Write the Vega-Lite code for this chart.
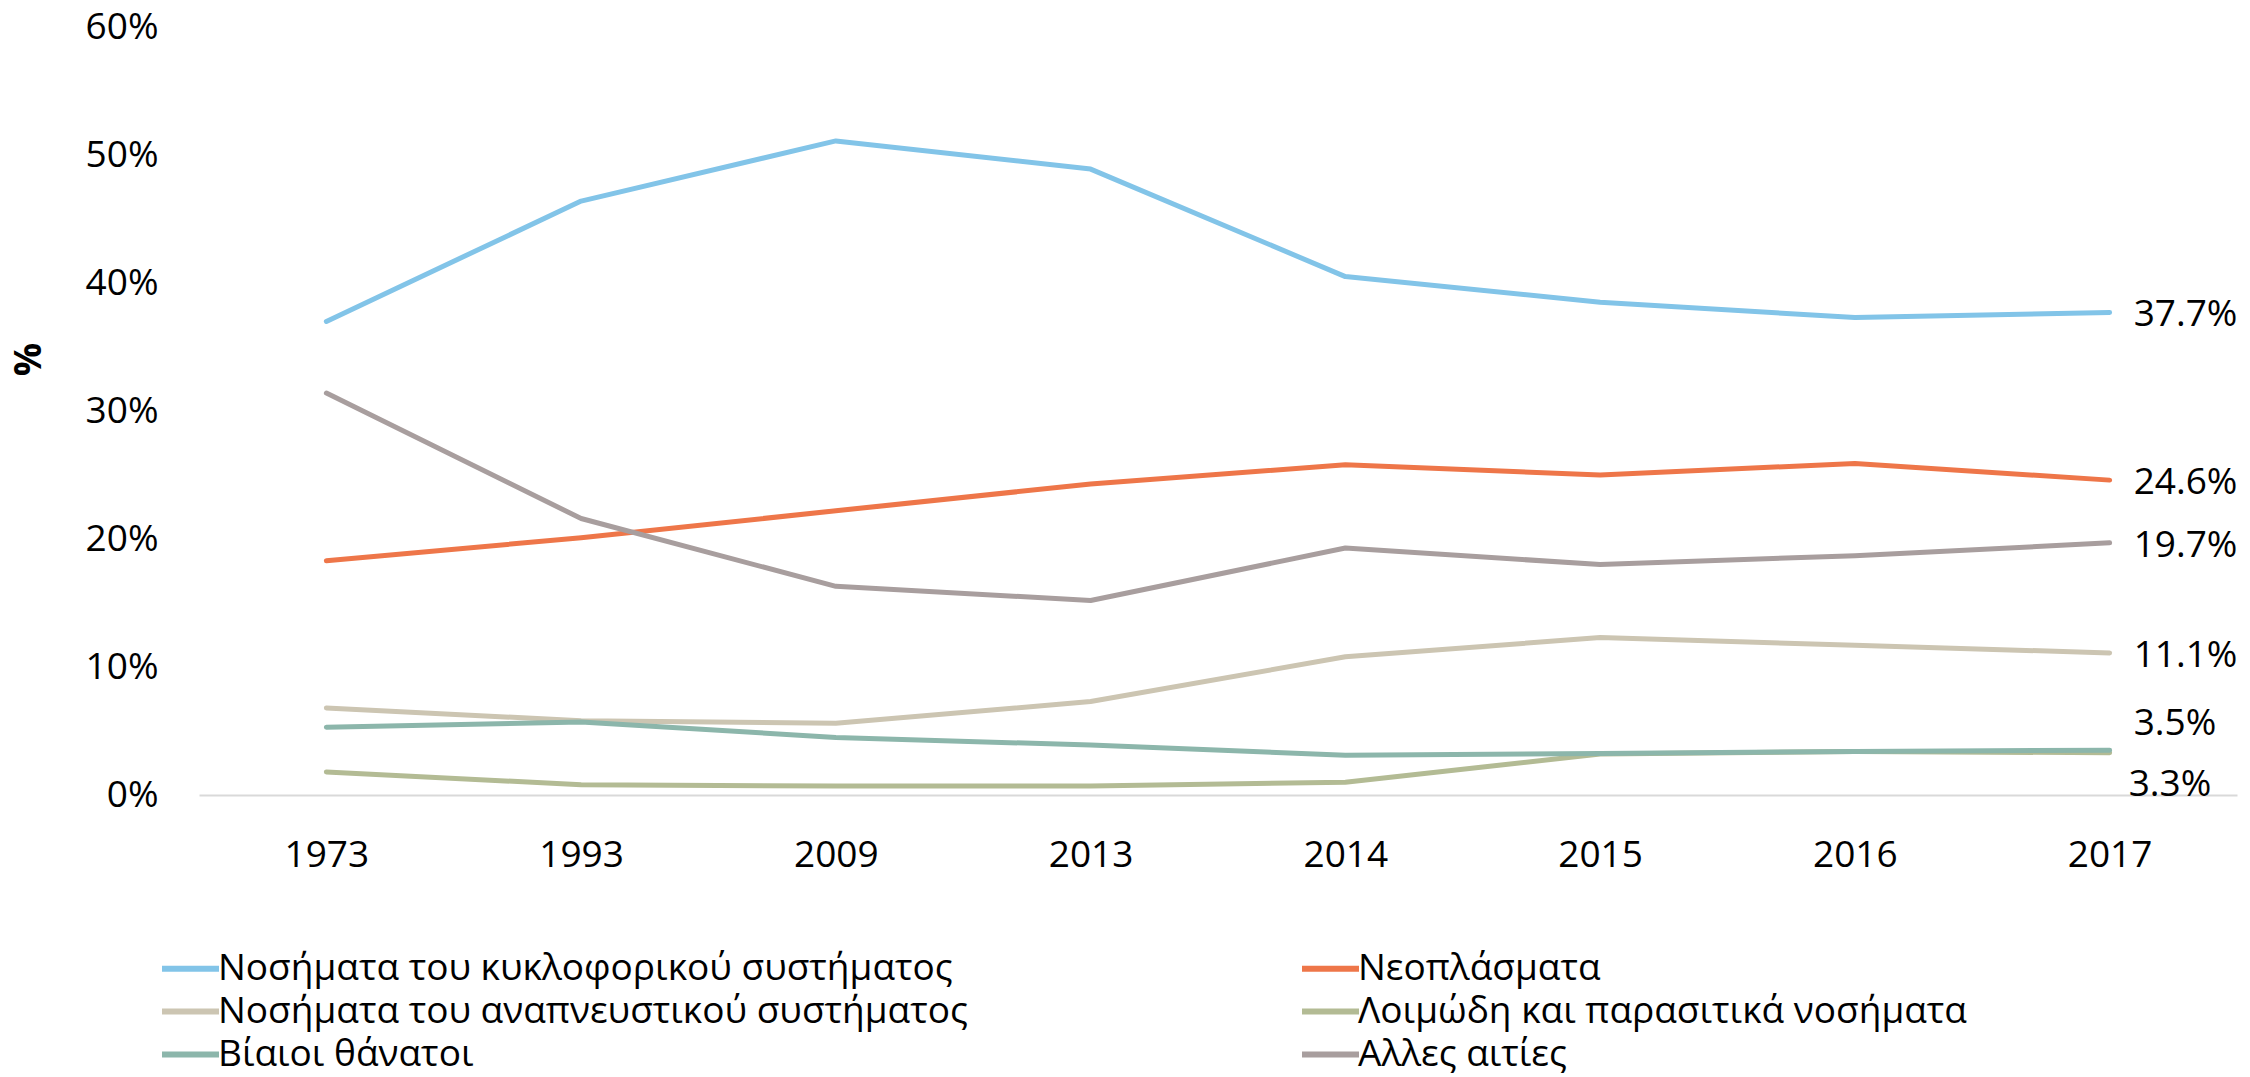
{
  "$schema": "https://vega.github.io/schema/vega-lite/v6.json",
  "autosize": "none",
  "width": 2038,
  "height": 768,
  "padding": {"left": 199, "top": 27, "right": 13, "bottom": 282},
  "background": "white",
  "config": {
    "view": {"stroke": null},
    "font": "Open Sans",
    "axis": {"labelFont": "Open Sans", "labelColor": "#000000", "titleFont": "Open Sans"},
    "legend": {"labelFont": "Open Sans"}
  },
  "data": {
    "values": [
      {"year": "1973", "cause": "Νοσήματα του κυκλοφορικού συστήματος", "value": 0.370},
      {"year": "1993", "cause": "Νοσήματα του κυκλοφορικού συστήματος", "value": 0.464},
      {"year": "2009", "cause": "Νοσήματα του κυκλοφορικού συστήματος", "value": 0.511},
      {"year": "2013", "cause": "Νοσήματα του κυκλοφορικού συστήματος", "value": 0.489},
      {"year": "2014", "cause": "Νοσήματα του κυκλοφορικού συστήματος", "value": 0.405},
      {"year": "2015", "cause": "Νοσήματα του κυκλοφορικού συστήματος", "value": 0.385},
      {"year": "2016", "cause": "Νοσήματα του κυκλοφορικού συστήματος", "value": 0.373},
      {"year": "2017", "cause": "Νοσήματα του κυκλοφορικού συστήματος", "value": 0.377},
      {"year": "1973", "cause": "Νεοπλάσματα", "value": 0.183},
      {"year": "1993", "cause": "Νεοπλάσματα", "value": 0.201},
      {"year": "2009", "cause": "Νεοπλάσματα", "value": 0.222},
      {"year": "2013", "cause": "Νεοπλάσματα", "value": 0.243},
      {"year": "2014", "cause": "Νεοπλάσματα", "value": 0.258},
      {"year": "2015", "cause": "Νεοπλάσματα", "value": 0.250},
      {"year": "2016", "cause": "Νεοπλάσματα", "value": 0.259},
      {"year": "2017", "cause": "Νεοπλάσματα", "value": 0.246},
      {"year": "1973", "cause": "Νοσήματα του αναπνευστικού συστήματος", "value": 0.068},
      {"year": "1993", "cause": "Νοσήματα του αναπνευστικού συστήματος", "value": 0.058},
      {"year": "2009", "cause": "Νοσήματα του αναπνευστικού συστήματος", "value": 0.056},
      {"year": "2013", "cause": "Νοσήματα του αναπνευστικού συστήματος", "value": 0.073},
      {"year": "2014", "cause": "Νοσήματα του αναπνευστικού συστήματος", "value": 0.108},
      {"year": "2015", "cause": "Νοσήματα του αναπνευστικού συστήματος", "value": 0.123},
      {"year": "2016", "cause": "Νοσήματα του αναπνευστικού συστήματος", "value": 0.117},
      {"year": "2017", "cause": "Νοσήματα του αναπνευστικού συστήματος", "value": 0.111},
      {"year": "1973", "cause": "Λοιμώδη και παρασιτικά νοσήματα", "value": 0.018},
      {"year": "1993", "cause": "Λοιμώδη και παρασιτικά νοσήματα", "value": 0.008},
      {"year": "2009", "cause": "Λοιμώδη και παρασιτικά νοσήματα", "value": 0.007},
      {"year": "2013", "cause": "Λοιμώδη και παρασιτικά νοσήματα", "value": 0.007},
      {"year": "2014", "cause": "Λοιμώδη και παρασιτικά νοσήματα", "value": 0.010},
      {"year": "2015", "cause": "Λοιμώδη και παρασιτικά νοσήματα", "value": 0.032},
      {"year": "2016", "cause": "Λοιμώδη και παρασιτικά νοσήματα", "value": 0.034},
      {"year": "2017", "cause": "Λοιμώδη και παρασιτικά νοσήματα", "value": 0.033},
      {"year": "1973", "cause": "Βίαιοι θάνατοι", "value": 0.053},
      {"year": "1993", "cause": "Βίαιοι θάνατοι", "value": 0.057},
      {"year": "2009", "cause": "Βίαιοι θάνατοι", "value": 0.045},
      {"year": "2013", "cause": "Βίαιοι θάνατοι", "value": 0.039},
      {"year": "2014", "cause": "Βίαιοι θάνατοι", "value": 0.031},
      {"year": "2015", "cause": "Βίαιοι θάνατοι", "value": 0.0325},
      {"year": "2016", "cause": "Βίαιοι θάνατοι", "value": 0.034},
      {"year": "2017", "cause": "Βίαιοι θάνατοι", "value": 0.035},
      {"year": "1973", "cause": "Αλλες αιτίες", "value": 0.314},
      {"year": "1993", "cause": "Αλλες αιτίες", "value": 0.216},
      {"year": "2009", "cause": "Αλλες αιτίες", "value": 0.163},
      {"year": "2013", "cause": "Αλλες αιτίες", "value": 0.152},
      {"year": "2014", "cause": "Αλλες αιτίες", "value": 0.193},
      {"year": "2015", "cause": "Αλλες αιτίες", "value": 0.180},
      {"year": "2016", "cause": "Αλλες αιτίες", "value": 0.187},
      {"year": "2017", "cause": "Αλλες αιτίες", "value": 0.197}
    ]
  },
  "encoding": {
    "x": {
      "field": "year", "type": "ordinal",
      "scale": {"type": "point", "padding": 0.5},
      "axis": {
        "title": null, "labelAngle": 0, "ticks": false, "grid": false,
        "domain": true, "domainColor": "#D9D9D9", "domainWidth": 2,
        "labelFontSize": 37, "labelPadding": 42
      }
    },
    "y": {
      "field": "value", "type": "quantitative",
      "scale": {"domain": [0, 0.6], "nice": false, "zero": true},
      "axis": {
        "title": "%", "titleFontSize": 37, "titleFontWeight": "bold",
        "titleAngle": -90, "titleX": -170, "titleY": 332, "titleAlign": "center", "titleBaseline": "middle",
        "format": ".0%", "values": [0, 0.1, 0.2, 0.3, 0.4, 0.5, 0.6],
        "labelFontSize": 37, "labelPadding": 41,
        "domain": false, "ticks": false, "grid": false
      }
    },
    "color": {
      "field": "cause", "type": "nominal",
      "scale": {
        "domain": ["Νοσήματα του κυκλοφορικού συστήματος", "Νεοπλάσματα", "Νοσήματα του αναπνευστικού συστήματος", "Λοιμώδη και παρασιτικά νοσήματα", "Βίαιοι θάνατοι", "Αλλες αιτίες"],
        "range": ["#82C4E8", "#EE7649", "#CCC5B2", "#B3BB94", "#8CB6AB", "#A89E9E"]
      },
      "legend": {
        "title": null, "orient": "none", "legendX": -27, "legendY": 923,
        "direction": "horizontal", "columns": 2,
        "symbolType": "M-2,0L2,0", "symbolSize": 812, "symbolStrokeWidth": 6,
        "symbolStrokeCap": "round",
        "labelFontSize": 37, "labelOffset": 9, "labelLimit": 1200,
        "rowPadding": 5, "columnPadding": 322
      }
    }
  },
  "layer": [
    {
      "mark": {"type": "line", "strokeWidth": 5, "strokeCap": "round", "strokeJoin": "round"}
    },
    {
      "transform": [
        {"filter": "datum.year == '2017' && datum.cause != 'Βίαιοι θάνατοι' && datum.cause != 'Λοιμώδη και παρασιτικά νοσήματα'"}
      ],
      "mark": {"type": "text", "align": "left", "baseline": "middle", "dx": 24, "dy": 3, "fontSize": 37},
      "encoding": {"text": {"field": "value", "type": "quantitative", "format": ".1%"}, "color": {"value": "#000000"}}
    },
    {
      "transform": [{"filter": "datum.year == '2017' && datum.cause == 'Βίαιοι θάνατοι'"}],
      "mark": {"type": "text", "align": "left", "baseline": "middle", "dx": 24, "dy": -26, "fontSize": 37},
      "encoding": {"text": {"field": "value", "type": "quantitative", "format": ".1%"}, "color": {"value": "#000000"}}
    },
    {
      "transform": [{"filter": "datum.year == '2017' && datum.cause == 'Λοιμώδη και παρασιτικά νοσήματα'"}],
      "mark": {"type": "text", "align": "left", "baseline": "middle", "dx": 19, "dy": 32, "fontSize": 37},
      "encoding": {"text": {"field": "value", "type": "quantitative", "format": ".1%"}, "color": {"value": "#000000"}}
    }
  ]
}
